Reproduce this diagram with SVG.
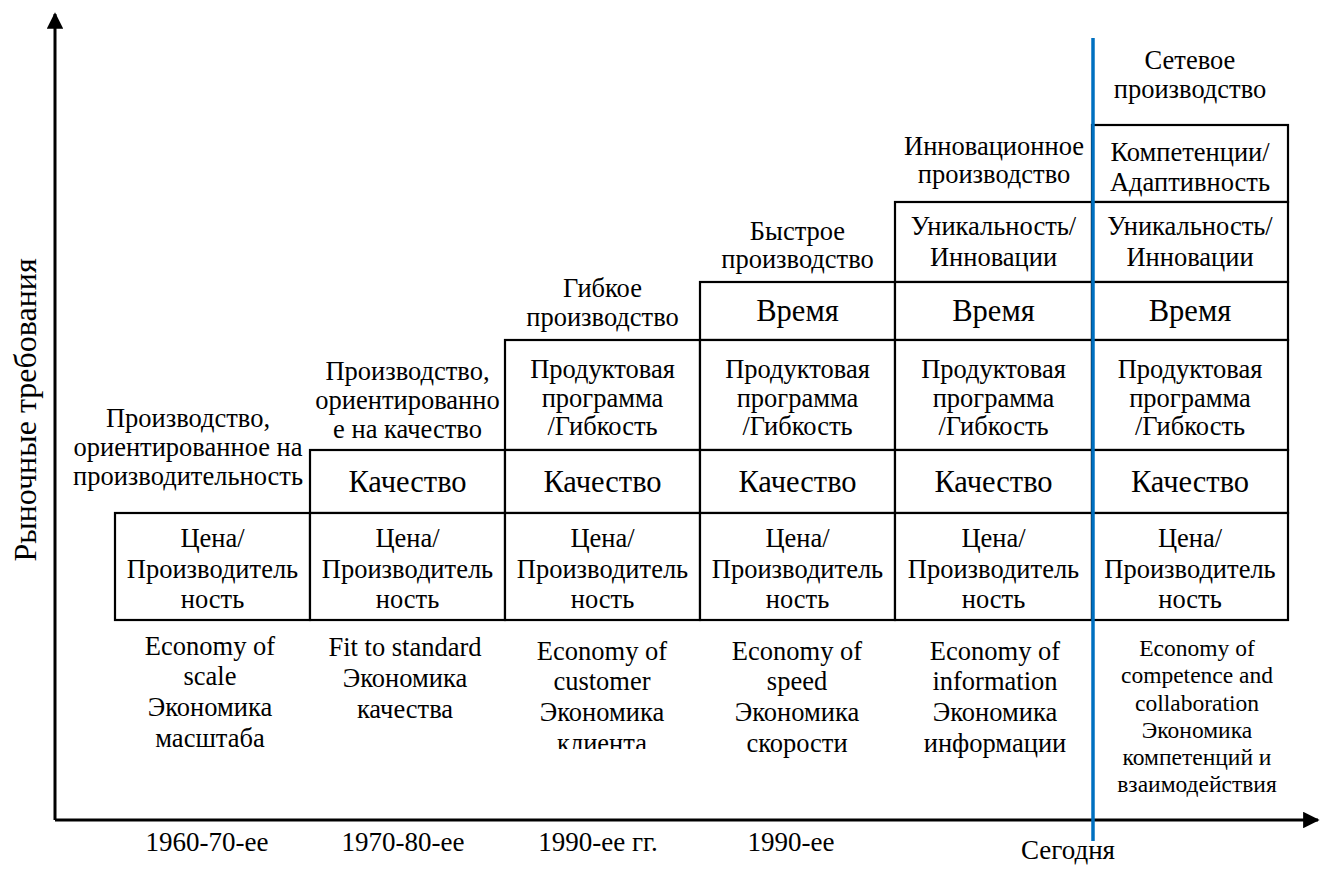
<svg xmlns="http://www.w3.org/2000/svg" width="1322" height="885" viewBox="0 0 1322 885" font-family="'Liberation Serif', 'Times New Roman', Tinos, serif">
  <defs>
    <style>
      .t-main { font-size: 26.5px; fill: #000; text-anchor: middle; }
      .t-large { font-size: 30.5px; fill: #000; text-anchor: middle; }
      .t-small { font-size: 23.5px; fill: #000; text-anchor: middle; }
      .t-year { font-size: 27px; fill: #000; text-anchor: middle; }
      .t-axis { font-size: 32px; fill: #000; text-anchor: middle; }
      .cell { fill: #fff; stroke: #000; stroke-width: 2.2; }
      .axis { fill: none; stroke: #000; stroke-width: 3; }
      .today { stroke: #0070C0; stroke-width: 3.5; fill: none; }
    </style>
    <marker id="arrow" viewBox="0 0 10 10" refX="9" refY="5" markerWidth="5.5" markerHeight="5.5" orient="auto">
      <path d="M0,0 L10,5 L0,10 z" fill="#000"/>
    </marker>
    <clipPath id="cut3">
      <rect x="500" y="620" width="205" height="129"/>
    </clipPath>
  </defs>

  <rect width="1322" height="885" fill="#fff"/>

  <!-- axes -->
  <g id="connectors">
    <path class="axis" d="M55,820 L55,14" marker-end="url(#arrow)"/>
    <path class="axis" d="M55,820 L1318,820" marker-end="url(#arrow)"/>
  </g>

  <!-- axis captions -->
  <g id="axis-y-label">
    <text class="t-axis" transform="translate(36,410) rotate(-90)">Рыночные требования</text>
  </g>
  <g id="years">
    <text class="t-year" x="207" y="851">1960-70-ее</text>
    <text class="t-year" x="403" y="851">1970-80-ее</text>
    <text class="t-year" x="598" y="851">1990-ее гг.</text>
    <text class="t-year" x="791" y="851">1990-ее</text>
    <text class="t-year" x="1068" y="859">Сегодня</text>
  </g>

  <!-- column 1 : 1960-70 -->
  <g id="col1">
    <text class="t-main" x="188" y="427">Производство,</text>
    <text class="t-main" x="188" y="456">ориентированное на</text>
    <text class="t-main" x="188" y="485">производительность</text>
    <rect class="cell" x="115" y="513" width="195" height="107"/>
    <text class="t-main" x="212.5" y="547">Цена/</text>
    <text class="t-main" x="212.5" y="578">Производитель</text>
    <text class="t-main" x="212.5" y="608">ность</text>
    <text class="t-main" x="210" y="655">Economy of</text>
    <text class="t-main" x="210" y="685">scale</text>
    <text class="t-main" x="210" y="716">Экономика</text>
    <text class="t-main" x="210" y="747">масштаба</text>
  </g>

  <!-- column 2 : 1970-80 -->
  <g id="col2">
    <text class="t-main" x="407.5" y="380">Производство,</text>
    <text class="t-main" x="407.5" y="409">ориентированно</text>
    <text class="t-main" x="407.5" y="438">е на качество</text>
    <rect class="cell" x="310" y="450" width="195" height="63"/>
    <text class="t-large" x="407.5" y="492">Качество</text>
    <rect class="cell" x="310" y="513" width="195" height="107"/>
    <text class="t-main" x="407.5" y="547">Цена/</text>
    <text class="t-main" x="407.5" y="578">Производитель</text>
    <text class="t-main" x="407.5" y="608">ность</text>
    <text class="t-main" x="405" y="656">Fit to standard</text>
    <text class="t-main" x="405" y="687">Экономика</text>
    <text class="t-main" x="405" y="718">качества</text>
  </g>

  <!-- column 3 : 1990 -->
  <g id="col3">
    <text class="t-main" x="602.5" y="297">Гибкое</text>
    <text class="t-main" x="602.5" y="326">производство</text>
    <rect class="cell" x="505" y="340" width="195" height="110"/>
    <text class="t-main" x="602.5" y="378">Продуктовая</text>
    <text class="t-main" x="602.5" y="407">программа</text>
    <text class="t-main" x="602.5" y="435">/Гибкость</text>
    <rect class="cell" x="505" y="450" width="195" height="63"/>
    <text class="t-large" x="602.5" y="492">Качество</text>
    <rect class="cell" x="505" y="513" width="195" height="107"/>
    <text class="t-main" x="602.5" y="547">Цена/</text>
    <text class="t-main" x="602.5" y="578">Производитель</text>
    <text class="t-main" x="602.5" y="608">ность</text>
    <g clip-path="url(#cut3)">
      <text class="t-main" x="602" y="660">Economy of</text>
      <text class="t-main" x="602" y="690">customer</text>
      <text class="t-main" x="602" y="721">Экономика</text>
      <text class="t-main" x="602" y="752">клиента</text>
    </g>
  </g>

  <!-- column 4 : 1990 -->
  <g id="col4">
    <text class="t-main" x="797.5" y="240">Быстрое</text>
    <text class="t-main" x="797.5" y="268">производство</text>
    <rect class="cell" x="700" y="282" width="195" height="58"/>
    <text class="t-large" x="797.5" y="321">Время</text>
    <rect class="cell" x="700" y="340" width="195" height="110"/>
    <text class="t-main" x="797.5" y="378">Продуктовая</text>
    <text class="t-main" x="797.5" y="407">программа</text>
    <text class="t-main" x="797.5" y="435">/Гибкость</text>
    <rect class="cell" x="700" y="450" width="195" height="63"/>
    <text class="t-large" x="797.5" y="492">Качество</text>
    <rect class="cell" x="700" y="513" width="195" height="107"/>
    <text class="t-main" x="797.5" y="547">Цена/</text>
    <text class="t-main" x="797.5" y="578">Производитель</text>
    <text class="t-main" x="797.5" y="608">ность</text>
    <text class="t-main" x="797" y="660">Economy of</text>
    <text class="t-main" x="797" y="690">speed</text>
    <text class="t-main" x="797" y="721">Экономика</text>
    <text class="t-main" x="797" y="752">скорости</text>
  </g>

  <!-- column 5 : innovation -->
  <g id="col5">
    <text class="t-main" x="994" y="155">Инновационное</text>
    <text class="t-main" x="994" y="183">производство</text>
    <rect class="cell" x="895" y="202" width="197" height="80"/>
    <text class="t-main" x="993.5" y="235">Уникальность/</text>
    <text class="t-main" x="993.5" y="266">Инновации</text>
    <rect class="cell" x="895" y="282" width="197" height="58"/>
    <text class="t-large" x="993.5" y="321">Время</text>
    <rect class="cell" x="895" y="340" width="197" height="110"/>
    <text class="t-main" x="993.5" y="378">Продуктовая</text>
    <text class="t-main" x="993.5" y="407">программа</text>
    <text class="t-main" x="993.5" y="435">/Гибкость</text>
    <rect class="cell" x="895" y="450" width="197" height="63"/>
    <text class="t-large" x="993.5" y="492">Качество</text>
    <rect class="cell" x="895" y="513" width="197" height="107"/>
    <text class="t-main" x="993.5" y="547">Цена/</text>
    <text class="t-main" x="993.5" y="578">Производитель</text>
    <text class="t-main" x="993.5" y="608">ность</text>
    <text class="t-main" x="995" y="660">Economy of</text>
    <text class="t-main" x="995" y="690">information</text>
    <text class="t-main" x="995" y="721">Экономика</text>
    <text class="t-main" x="995" y="752">информации</text>
  </g>

  <!-- column 6 : network production -->
  <g id="col6">
    <text class="t-main" x="1190" y="69">Сетевое</text>
    <text class="t-main" x="1190" y="98">производство</text>
    <rect class="cell" x="1092" y="125" width="196" height="77"/>
    <text class="t-main" x="1190" y="161">Компетенции/</text>
    <text class="t-main" x="1190" y="191">Адаптивность</text>
    <rect class="cell" x="1092" y="202" width="196" height="80"/>
    <text class="t-main" x="1190" y="235">Уникальность/</text>
    <text class="t-main" x="1190" y="266">Инновации</text>
    <rect class="cell" x="1092" y="282" width="196" height="58"/>
    <text class="t-large" x="1190" y="321">Время</text>
    <rect class="cell" x="1092" y="340" width="196" height="110"/>
    <text class="t-main" x="1190" y="378">Продуктовая</text>
    <text class="t-main" x="1190" y="407">программа</text>
    <text class="t-main" x="1190" y="435">/Гибкость</text>
    <rect class="cell" x="1092" y="450" width="196" height="63"/>
    <text class="t-large" x="1190" y="492">Качество</text>
    <rect class="cell" x="1092" y="513" width="196" height="107"/>
    <text class="t-main" x="1190" y="547">Цена/</text>
    <text class="t-main" x="1190" y="578">Производитель</text>
    <text class="t-main" x="1190" y="608">ность</text>
    <text class="t-small" x="1197" y="656">Economy of</text>
    <text class="t-small" x="1197" y="683">competence and</text>
    <text class="t-small" x="1197" y="711">collaboration</text>
    <text class="t-small" x="1197" y="738">Экономика</text>
    <text class="t-small" x="1197" y="765">компетенций и</text>
    <text class="t-small" x="1197" y="792">взаимодействия</text>
  </g>

  <!-- "today" marker line -->
  <g id="today-line">
    <line class="today" x1="1093" y1="38" x2="1093" y2="841"/>
  </g>
</svg>
